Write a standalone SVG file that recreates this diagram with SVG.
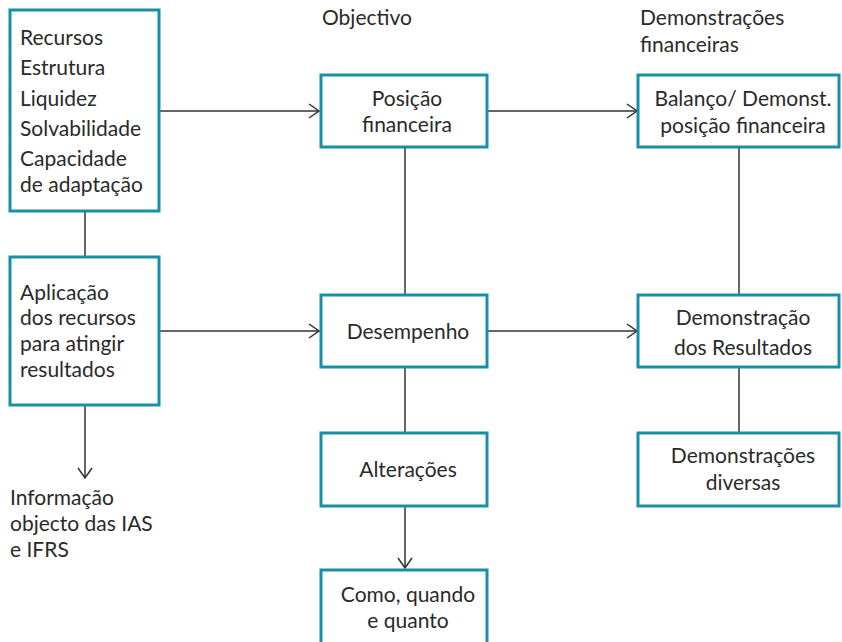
<svg xmlns="http://www.w3.org/2000/svg" width="842" height="642" viewBox="0 0 842 642">
<style>
.box{fill:#fff;stroke:#1790a8;stroke-width:3}
.t{font-family:Lato,"Open Sans",sans-serif;font-size:21px;fill:#2a2a2a}
.c{text-anchor:middle}
.ln{stroke:#333;stroke-width:1.5;fill:none}
</style>
<defs>
<marker id="ah" viewBox="0 0 12 16" refX="11" refY="8" markerWidth="12" markerHeight="16" markerUnits="userSpaceOnUse" orient="auto">
<path d="M1,1 L11,8 L1,15" fill="none" stroke="#333" stroke-width="1.5"/>
</marker>
</defs>
<rect width="842" height="642" fill="#fff"/>
<g id="connectors">
<line class="ln" x1="159" y1="111" x2="319" y2="111" marker-end="url(#ah)"/>
<line class="ln" x1="487" y1="111" x2="637" y2="111" marker-end="url(#ah)"/>
<line class="ln" x1="85" y1="211" x2="85" y2="257"/>
<line class="ln" x1="405" y1="147" x2="405" y2="295"/>
<line class="ln" x1="739" y1="147" x2="739" y2="295"/>
<line class="ln" x1="159" y1="331" x2="319" y2="331" marker-end="url(#ah)"/>
<line class="ln" x1="487" y1="331" x2="637" y2="331" marker-end="url(#ah)"/>
<line class="ln" x1="405" y1="367" x2="405" y2="433"/>
<line class="ln" x1="739" y1="367" x2="739" y2="433"/>
<line class="ln" x1="85" y1="405" x2="85" y2="478" marker-end="url(#ah)"/>
<line class="ln" x1="405" y1="506" x2="405" y2="568" marker-end="url(#ah)"/>
</g>
<g id="recursos">
<rect class="box" x="10" y="10" width="149" height="201"/>
<text class="t" x="20" y="45">Recursos</text>
<text class="t" x="20" y="75">Estrutura</text>
<text class="t" x="20" y="106">Liquidez</text>
<text class="t" x="20" y="136">Solvabilidade</text>
<text class="t" x="20" y="166">Capacidade</text>
<text class="t" x="20" y="192">de adaptação</text>
</g>
<g id="aplicacao">
<rect class="box" x="10" y="257" width="149" height="148"/>
<text class="t" x="20" y="300">Aplicação</text>
<text class="t" x="20" y="325">dos recursos</text>
<text class="t" x="20" y="351">para atingir</text>
<text class="t" x="20" y="377">resultados</text>
</g>
<g id="informacao">
<text class="t" x="10" y="505">Informação</text>
<text class="t" x="10" y="531">objecto das IAS</text>
<text class="t" x="10" y="557">e IFRS</text>
</g>
<g id="objectivo">
<text class="t" x="322" y="25">Objectivo</text>
</g>
<g id="demfin-header">
<text class="t" x="640" y="25">Demonstrações</text>
<text class="t" x="640" y="52">financeiras</text>
</g>
<g id="posicao">
<rect class="box" x="321" y="75" width="166" height="72"/>
<text class="t c" x="407" y="106">Posição</text>
<text class="t c" x="407" y="132">financeira</text>
</g>
<g id="desempenho">
<rect class="box" x="321" y="295" width="166" height="72"/>
<text class="t c" x="408" y="339">Desempenho</text>
</g>
<g id="alteracoes">
<rect class="box" x="321" y="433" width="166" height="73"/>
<text class="t c" x="408" y="477">Alterações</text>
</g>
<g id="como">
<rect class="box" x="321" y="570" width="166" height="80"/>
<text class="t c" x="408" y="602">Como, quando</text>
<text class="t c" x="408" y="628">e quanto</text>
</g>
<g id="balanco">
<rect class="box" x="638" y="75" width="201" height="72"/>
<text class="t c" x="743" y="106">Balanço/ Demonst.</text>
<text class="t c" x="743" y="133">posição financeira</text>
</g>
<g id="demres">
<rect class="box" x="638" y="295" width="201" height="72"/>
<text class="t c" x="743" y="325">Demonstração</text>
<text class="t c" x="743" y="355">dos Resultados</text>
</g>
<g id="diversas">
<rect class="box" x="638" y="433" width="201" height="73"/>
<text class="t c" x="743" y="463">Demonstrações</text>
<text class="t c" x="743" y="490">diversas</text>
</g>
</svg>
